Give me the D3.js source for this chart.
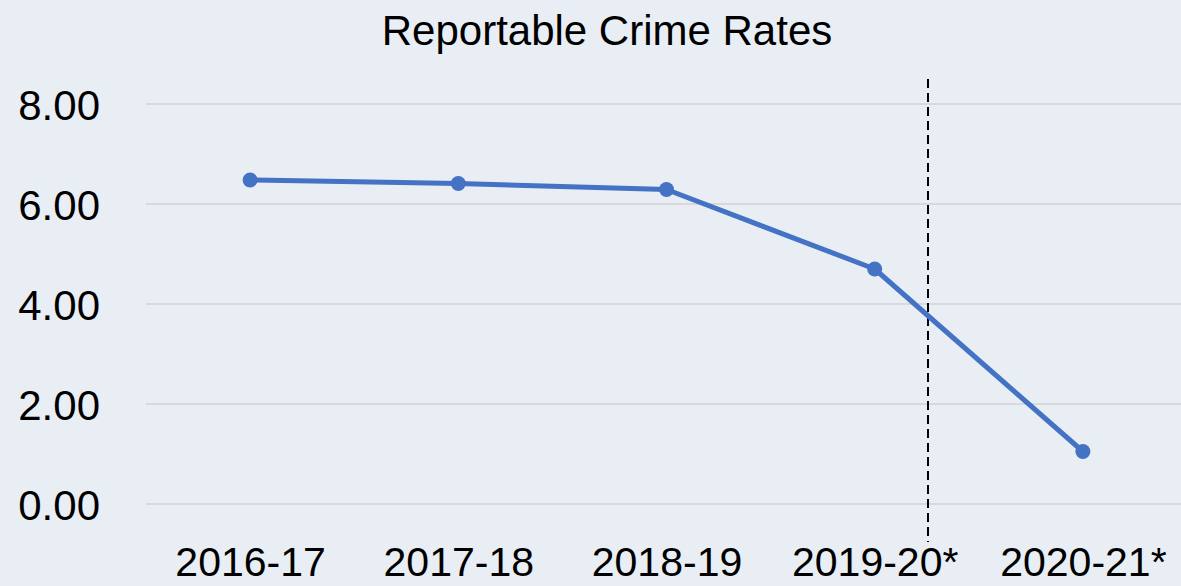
<!DOCTYPE html>
<html>
<head>
<meta charset="utf-8">
<script src="https://cdn.jsdelivr.net/npm/d3@7/dist/d3.min.js"></script>
<style>
  html, body { margin: 0; padding: 0; background: #E9EDF4; }
  svg { display: block; }
  text { font-family: "Liberation Sans", Arial, sans-serif; fill: #000; }
</style>
</head>
<body>
<svg id="chart" width="1181" height="586"></svg>
<script>
const title = "Reportable Crime Rates";
const categories = ["2016-17", "2017-18", "2018-19", "2019-20*", "2020-21*"];
const values = [6.48, 6.41, 6.29, 4.70, 1.05];
const yTicks = [0, 2, 4, 6, 8];
// annotation: dashed divider after the 4th category (fraction of a step)
const dividerAfter = "2019-20*";
const dividerOffset = 0.256;

const W = 1181, H = 586;
const svg = d3.select("#chart");
svg.append("rect").attr("width", W).attr("height", H).attr("fill", "#E9EDF4");

const x = d3.scalePoint().domain(categories).range([146, 1187]).padding(0.5);
const y = d3.scaleLinear().domain([0, 8]).range([504, 104]);

// gridlines
svg.append("g").selectAll("line").data(yTicks).join("line")
  .attr("x1", 146).attr("x2", W)
  .attr("y1", d => y(d)).attr("y2", d => y(d))
  .attr("stroke", "#D9D9D9").attr("stroke-width", 2);

// y axis labels
const yAxis = d3.axisLeft(y).tickValues(yTicks).tickFormat(d3.format(".2f")).tickSize(0).tickPadding(0);
const yg = svg.append("g").attr("transform", "translate(100,0)").call(yAxis);
yg.select(".domain").remove();
yg.selectAll("text").attr("font-size", 42).attr("font-family", "Liberation Sans, Arial, sans-serif")
  .attr("fill", "#000").attr("dy", "0.36em");

// x axis labels
const xAxis = d3.axisBottom(x).tickSize(0).tickPadding(0);
const xg = svg.append("g").attr("transform", "translate(0,576)").call(xAxis);
xg.select(".domain").remove();
xg.selectAll("text").attr("font-size", 41).attr("font-family", "Liberation Sans, Arial, sans-serif")
  .attr("fill", "#000").attr("dy", "0");

// dashed divider
const dx = x(dividerAfter) + dividerOffset * x.step();
svg.append("line")
  .attr("x1", dx).attr("x2", dx).attr("y1", 79).attr("y2", 542)
  .attr("stroke", "#000").attr("stroke-width", 2).attr("stroke-dasharray", "9,5");

// line
const data = categories.map((c, i) => ({ c, v: values[i] }));
svg.append("path").datum(data)
  .attr("fill", "none").attr("stroke", "#4472C4").attr("stroke-width", 5)
  .attr("stroke-linejoin", "round")
  .attr("d", d3.line().x(d => x(d.c)).y(d => y(d.v)));

svg.append("g").selectAll("circle").data(data).join("circle")
  .attr("cx", d => x(d.c)).attr("cy", d => y(d.v)).attr("r", 7.5)
  .attr("fill", "#4472C4");

// title
svg.append("text").attr("x", 607).attr("y", 45).attr("text-anchor", "middle")
  .attr("font-size", 42).text(title);
</script>
</body>
</html>
